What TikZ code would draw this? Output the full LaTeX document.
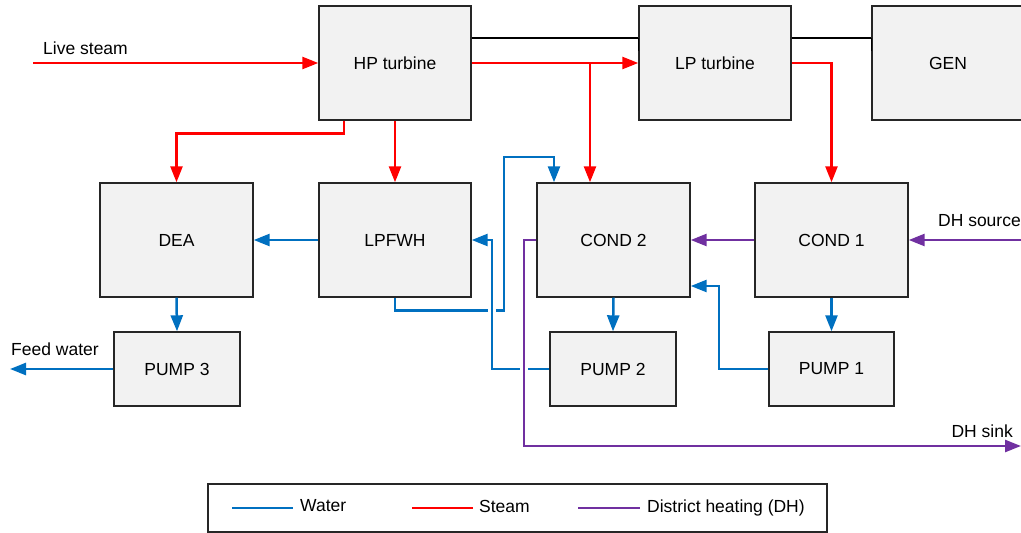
\documentclass[tikz,border=0pt]{standalone}
\usepackage{fontspec}
\setmainfont{Liberation Sans}
\usetikzlibrary{arrows.meta,calc}
\definecolor{wblue}{HTML}{0070C0}
\definecolor{sred}{HTML}{FF0000}
\definecolor{dhpurple}{HTML}{7030A0}
\definecolor{boxfill}{HTML}{F2F2F2}
\tikzset{
  unit/.style={draw=black!85, line width=1.4pt, fill=boxfill, minimum width=152pt, minimum height=114pt, inner sep=0pt, font=\fontsize{17.5}{21}\selectfont},
  widebox/.style={unit, minimum width=153pt},
  pumpbox/.style={unit, minimum width=126pt, minimum height=74pt},
  flow/.style={line width=2.5pt, -{Triangle[length=16pt,width=12pt]}},
  water/.style={flow, draw=wblue},
  steam/.style={flow, draw=sred},
  dh/.style={flow, draw=dhpurple},
  jumpgap/.style={preaction={draw=white, line width=8pt, shorten <=3pt, shorten >=3pt, -}},
  shaft/.style={draw=black, line width=1.6pt},
  lbl/.style={inner sep=0pt, font=\fontsize{17.5}{21}\selectfont},
  legline/.style={line width=2.5pt}
}
\begin{document}
\begin{tikzpicture}[x=1pt,y=-1pt]
\useasboundingbox (0,0) rectangle (1021,533);
% units
\node[unit] (hp) at (395,63) {HP turbine};
\node[unit] (lp) at (715,63) {LP turbine};
\node[unit] (gen) at (948,63) {GEN};
\node[widebox] (dea) at (176.5,240) {DEA};
\node[unit] (lpfwh) at (395,240) {LPFWH};
\node[widebox] (cond2) at (613.5,240) {COND 2};
\node[widebox] (cond1) at (831.5,240) {COND 1};
\node[pumpbox] (pump3) at (177,369) {PUMP 3};
\node[pumpbox] (pump2) at (613,369) {PUMP 2};
\node[pumpbox, minimum width=125pt] (pump1) at (831.5,369) {PUMP 1};
% helper coordinates
\coordinate (ls) at (33,63);
\coordinate (fw) at (10,369);
\coordinate (dhsrc) at (1021,240);
\coordinate (dhsnk) at (1021,446);
\coordinate (c2s) at ([xshift=-23.5pt]cond2.north);
\coordinate (c2w) at ([xshift=-59.5pt]cond2.north);
\coordinate (c2p1) at ([yshift=-46pt]cond2.east);
\coordinate (hpd) at ([xshift=-51pt]hp.south);
% shafts
\draw[shaft] (hp.east |- 0,38) -- (lp.west |- 0,38);
\draw[shaft] (lp.west |- 0,38) -- (lp.west |- 0,51);
\draw[shaft] (lp.east |- 0,38) -- (gen.west |- 0,38);
\draw[shaft] (gen.west |- 0,38) -- (gen.west |- 0,51);
% steam
\draw[steam] (ls) -- (hp.west);
\draw[steam] (hp.east) -- (lp.west);
\draw[steam] (hp.east) -| (c2s);
\draw[steam] (lp.east) -| (cond1.north);
\draw[steam] (hpd) -- ++(0,13) -| (dea.north);
\draw[steam] (hp.south) -- (lpfwh.north);
% water
\draw[water] (lpfwh.west) -- (dea.east);
\draw[water] (dea.south) -- (pump3.north);
\draw[water] (pump3.west) -- (fw);
\draw[water] (lpfwh.south) -- ++(0,13) -| (504,157) -| (c2w);
\draw[water,jumpgap] (pump2.west) -| (492,240) -- (lpfwh.east);
\draw[water] (cond2.south) -- (pump2.north);
\draw[water] (cond1.south) -- (pump1.north);
\draw[water] (pump1.west) -| (719,286) -- (c2p1);
% district heating
\draw[dh] (dhsrc) -- (cond1.east);
\draw[dh] (cond1.west) -- (cond2.east);
\draw[dh,jumpgap] (cond2.west) -| (524,446) -- (dhsnk);
% labels
\node[lbl, anchor=west] (tls) at (43,48) {Live steam};
\node[lbl, anchor=west] (tfw) at (11,349) {Feed water};
\node[lbl, anchor=east] (tdhs) at (1021,221) {DH source};
\node[lbl, anchor=east] (tdhk) at (1013,431) {DH sink};
% legend
\node[draw=black!85, line width=1.4pt, minimum width=619pt, minimum height=48pt, inner sep=0pt] (legend) at (517.5,508) {};
\coordinate (lw1) at (232,508);
\coordinate (lw2) at (293,508);
\coordinate (ls1) at (412,508);
\coordinate (ls2) at (473,508);
\coordinate (ld1) at (578,508);
\coordinate (ld2) at (640,508);
\draw[legline, wblue] (lw1) -- (lw2);
\draw[legline, sred] (ls1) -- (ls2);
\draw[legline, dhpurple] (ld1) -- (ld2);
\node[lbl, anchor=west] (tw) at (300,506) {Water};
\node[lbl, anchor=west] (ts) at (479,506) {Steam};
\node[lbl, anchor=west] (td) at (647,508) {District heating (DH)};
\end{tikzpicture}
\end{document}
